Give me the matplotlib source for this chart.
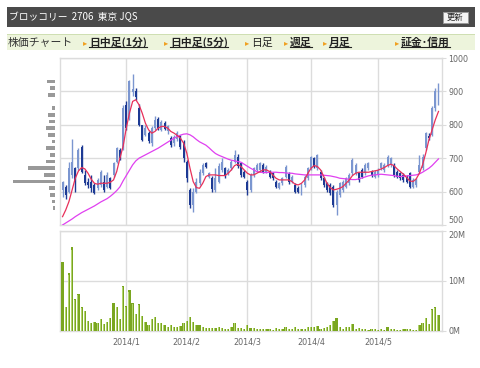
import matplotlib
matplotlib.use('Agg')
import matplotlib.pyplot as plt
from matplotlib.patches import Rectangle
from matplotlib.lines import Line2D
from matplotlib.transforms import IdentityTransform
import numpy as np

W, H, DPI = 480, 368, 100

# ---------------- text ----------------
title = "ブロッコリー  2706  東京 JQS"
button_label = "更新"
nav_label = "株価チャート"
nav_links = ["日中足(1分)", "日中足(5分)", "日足", "週足", "月足", "証金･信用"]
nav_bold = [True, True, False, True, True, True]
nav_x = [89, 170, 251, 290, 329, 401]

month_idx = [20, 39, 58, 78, 99]
month_labels = ["2014/1", "2014/2", "2014/3", "2014/4", "2014/5"]
price_ticks = [500, 600, 700, 800, 900, 1000]
vol_ticks = [0, 10, 20]
vol_tick_labels = ["0M", "10M", "20M"]

# ---------------- daily data (Dec 2013 - May 2014) ----------------
opens = [605, 615, 600, 650, 670, 670, 735, 650, 630, 628, 620, 610, 620, 630, 615, 640, 650, 690, 725, 730,
         860, 820, 898, 900, 850, 800, 770, 775, 745, 790, 818, 785, 805, 780, 760, 745, 758, 765, 750, 690,
         605, 560, 600, 625, 655, 685, 645, 640, 605, 630, 665, 670, 655, 670, 690, 705, 685, 660, 630, 605,
         650, 665, 665, 680, 660, 660, 655, 630, 612, 625, 645, 652, 630, 620, 612, 598, 620, 640, 670, 700,
         670, 660, 640, 625, 620, 615, 560, 590, 605, 615, 625, 655, 655, 655, 665, 655, 670, 660, 645, 650,
         670, 665, 680, 680, 680, 660, 655, 650, 645, 655, 615, 620, 660, 670, 730, 765, 770, 850, 885]
highs = [632, 620, 690, 758, 675, 730, 740, 665, 640, 650, 625, 640, 665, 650, 658, 645, 690, 735, 730, 860,
         870, 935, 952, 910, 862, 800, 800, 780, 795, 825, 822, 815, 810, 800, 765, 768, 780, 770, 755, 695,
         610, 610, 640, 668, 685, 688, 660, 648, 670, 685, 700, 675, 670, 695, 725, 712, 690, 665, 635, 655,
         675, 685, 690, 685, 680, 665, 658, 635, 630, 645, 680, 658, 650, 625, 618, 625, 650, 675, 708, 705,
         712, 665, 645, 630, 625, 620, 605, 630, 635, 645, 655, 700, 685, 660, 670, 685, 690, 665, 665, 670,
         690, 685, 710, 705, 685, 665, 660, 655, 650, 660, 640, 640, 710, 712, 778, 775, 855, 910, 925]
lows = [585, 578, 595, 640, 600, 665, 655, 620, 610, 600, 592, 605, 615, 600, 612, 608, 645, 685, 695, 725,
        785, 815, 885, 875, 795, 750, 765, 745, 738, 785, 785, 780, 783, 772, 735, 738, 750, 728, 690, 630,
        550, 538, 595, 620, 650, 670, 640, 600, 600, 625, 660, 642, 650, 665, 685, 672, 645, 640, 590, 600,
        645, 660, 660, 655, 655, 640, 635, 610, 608, 620, 640, 622, 625, 595, 595, 590, 615, 635, 665, 670,
        665, 635, 615, 600, 590, 555, 529, 585, 600, 612, 620, 650, 650, 630, 640, 650, 665, 645, 640, 645,
        665, 660, 675, 675, 645, 640, 635, 630, 625, 610, 610, 615, 655, 665, 725, 755, 765, 840, 860]
closes = [628, 590, 670, 690, 630, 725, 660, 625, 620, 612, 597, 635, 660, 605, 650, 612, 685, 730, 700, 850,
          790, 930, 908, 882, 800, 755, 790, 750, 790, 815, 790, 808, 788, 795, 740, 762, 775, 735, 700, 640,
          560, 600, 630, 660, 680, 675, 655, 608, 640, 678, 690, 648, 665, 690, 710, 678, 650, 645, 605, 650,
          670, 680, 685, 660, 675, 645, 640, 615, 625, 640, 675, 628, 645, 600, 600, 620, 645, 670, 705, 675,
          710, 640, 620, 605, 595, 560, 600, 625, 630, 640, 650, 695, 680, 635, 645, 680, 685, 650, 660, 665,
          685, 680, 705, 700, 650, 645, 640, 635, 630, 615, 635, 635, 680, 705, 775, 760, 850, 900, 910]
volume_m = [13.9, 4.9, 11.7, 16.9, 6.5, 7.5, 4.8, 4.1, 2.1, 1.6, 1.9, 1.7, 2.5, 1.5, 1.9, 2.7, 5.7, 4.9, 2.5, 9.1,
            5.1, 8.2, 5.7, 3.5, 5.4, 3.1, 1.9, 1.3, 2.5, 2.9, 1.7, 1.7, 1.3, 0.9, 1.2, 0.9, 0.9, 1.1, 1.7, 2.1,
            2.9, 1.9, 1.3, 1.2, 0.9, 0.7, 0.7, 0.7, 0.7, 0.8, 0.7, 0.5, 0.4, 0.9, 1.6, 0.7, 0.7, 0.5, 1.2, 0.7,
            0.7, 0.4, 0.5, 0.4, 0.4, 0.5, 0.3, 0.7, 0.5, 0.5, 0.8, 0.5, 0.4, 0.8, 0.4, 0.4, 0.5, 0.9, 0.9, 0.8,
            1.1, 0.5, 0.7, 0.9, 1.2, 2.1, 2.7, 0.8, 0.5, 0.8, 0.8, 1.5, 0.5, 0.7, 0.4, 0.5, 0.3, 0.4, 0.4, 0.3,
            0.5, 0.3, 0.8, 0.5, 0.5, 0.3, 0.3, 0.4, 0.5, 0.5, 0.3, 0.3, 1.3, 1.7, 2.7, 1.5, 4.4, 4.8, 3.3]
ma_short = [525, 545, 570, 605, 640, 662, 672, 668, 655, 637, 625, 622, 625, 625, 625, 628, 635, 660, 700, 735,
            790, 835, 870, 875, 860, 835, 805, 785, 775, 780, 790, 795, 795, 790, 780, 775, 768, 760, 745, 715,
            670, 630, 612, 610, 625, 645, 650, 650, 650, 648, 648, 648, 655, 665, 678, 682, 675, 665, 655, 650,
            650, 655, 660, 665, 665, 660, 650, 640, 635, 635, 635, 635, 630, 622, 620, 625, 635, 655, 670, 678,
            675, 665, 645, 625, 612, 605, 607, 610, 615, 625, 635, 648, 655, 658, 658, 658, 658, 660, 662, 664,
            668, 672, 678, 682, 678, 668, 660, 652, 642, 632, 630, 638, 655, 680, 715, 755, 785, 815, 840]
ma_long = [500, 506, 512, 518, 525, 531, 537, 542, 547, 552, 557, 563, 569, 574, 579, 586, 594, 603, 614, 632,
           648, 664, 680, 692, 700, 705, 710, 715, 720, 725, 730, 736, 742, 748, 754, 760, 765, 769, 772, 773,
           770, 764, 756, 749, 744, 739, 731, 722, 714, 709, 705, 701, 697, 694, 692, 690, 688, 682, 676, 670,
           665, 660, 658, 657, 657, 658, 658, 658, 657, 657, 656, 655, 655, 653, 652, 651, 650, 650, 650, 650,
           650, 650, 649, 648, 647, 645, 643, 640, 639, 638, 637, 636, 636, 638, 641, 644, 647, 649, 650, 651,
           652, 651, 650, 649, 648, 646, 645, 646, 647, 648, 649, 650, 653, 658, 664, 670, 678, 688, 698]

# price-by-volume profile (left)
pbv_price = [550, 570, 590, 610, 630, 650, 670, 690, 710, 730, 750, 770, 790, 810, 830, 850, 890, 910, 930]
pbv_volume = [2.3, 3.3, 5.0, 6.0, 41.7, 10.7, 26.7, 9.3, 5.0, 9.3, 2.7, 7.3, 9.3, 6.0, 6.7, 3.3, 6.7, 5.0, 8.3]

# ---------------- styling ----------------
UP = '#7b96d0'
DOWN = '#1d3a94'
GRID = '#dcdcdc'
TXT = '#666666'

plt.rcParams['font.family'] = ['DejaVu Sans']
JP = ['Noto Sans CJK JP', 'DejaVu Sans']

fig = plt.figure(figsize=(W / DPI, H / DPI), dpi=DPI, facecolor='white')

def fx(x):
    return x / W

def fy(y):
    return 1 - y / H

# header bar
fig.add_artist(Rectangle((fx(7), fy(27)), fx(468), 20 / H, transform=fig.transFigure,
                         facecolor='#4a4a4a', edgecolor='none'))
fig.text(fx(9), fy(17), title, color='white', fontsize=7, family=JP, va='center', ha='left')
fig.add_artist(Rectangle((fx(443), fy(23)), fx(25), 11 / H, transform=fig.transFigure,
                         facecolor='#f4f4f4', edgecolor='#999999', lw=0.7))
fig.text(fx(455.5), fy(17.5), button_label, color='#222222', fontsize=6, family=JP, va='center', ha='center')

# nav bar
fig.add_artist(Rectangle((fx(7), fy(50)), fx(468), 16 / H, transform=fig.transFigure,
                         facecolor='#edf4dc', edgecolor='none'))
fig.add_artist(Rectangle((fx(7), fy(35)), fx(468), 1.5 / H, transform=fig.transFigure,
                         facecolor='#cfdfb3', edgecolor='none'))
fig.text(fx(8), fy(42.5), nav_label, color='#333333', fontsize=7.8, family=JP, va='center', ha='left')
link_texts = []
for lab, bold, x in zip(nav_links, nav_bold, nav_x):
    fig.text(fx(x - 6), fy(42.5), '▸', color='#f0a020', fontsize=6, family=['DejaVu Sans'],
             va='center', ha='left')
    t = fig.text(fx(x), fy(42.5), lab, color='#222222', fontsize=7.8, family=JP,
                 fontweight='bold' if bold else 'normal', va='center', ha='left')
    if bold:
        link_texts.append(t)

# axes
ax = fig.add_axes([fx(60), fy(225), 382 / W, 167 / H])
axv = fig.add_axes([fx(60), fy(331), 382 / W, 100 / H])
axp = fig.add_axes([fx(10), fy(225), 45 / W, 167 / H])

n = len(closes)
idx = np.arange(n)
o = np.array(opens); c = np.array(closes); hi = np.array(highs); lo = np.array(lows)
up = c >= o
cols = np.where(up, UP, DOWN)

for a in (ax, axv):
    a.set_xlim(-0.8, 119.1)
    a.set_xticks(month_idx)
    a.grid(True, color=GRID, lw=1.0)
    a.set_axisbelow(True)
    for s in a.spines.values():
        s.set_color(GRID)
        s.set_linewidth(1.0)
    a.yaxis.tick_right()
    a.tick_params(axis='y', colors=GRID, labelcolor=TXT, labelsize=5.8, length=3, width=0.8, pad=1.5)
    a.tick_params(axis='x', length=0, labelcolor=TXT, labelsize=5.8, pad=5)

ax.set_ylim(500, 1000)
ax.set_yticks(price_ticks)
ax.set_xticklabels([])

ax.vlines(idx, lo, hi, colors=cols, lw=1.0, zorder=2)
body_h = np.maximum(np.abs(c - o), 2)
ax.bar(idx, body_h, bottom=np.minimum(o, c), width=0.62, color=cols, edgecolor='none', zorder=3)
ax.plot(idx, ma_long, color='#e040f0', lw=0.9, zorder=4)
ax.plot(idx, ma_short, color='#e8305a', lw=0.9, zorder=5)

axv.set_ylim(0, 20)
axv.set_yticks(vol_ticks)
axv.set_yticklabels(vol_tick_labels)
axv.set_xticklabels(month_labels)
axv.bar(idx, volume_m, width=0.72, color='#7aa620', edgecolor='none', zorder=3)
axv.bar(idx - 0.17, np.array(volume_m) * 0.96, width=0.3, color='#b3d46e', edgecolor='none', zorder=4)

for a in (ax, axv):
    for lbl in a.get_yticklabels():
        lbl.set_ha('left')
# keep the "500" and "20M" labels from colliding
ax.get_yticklabels()[0].set_va('bottom')
axv.get_yticklabels()[-1].set_va('top')

axp.set_ylim(500, 1000)
axp.set_xlim(45, 0)
axp.barh(pbv_price, pbv_volume, height=11, color='#999999', edgecolor='none')
axp.axis('off')

# underline bold links
fig.canvas.draw()
r = fig.canvas.get_renderer()
for t in link_texts:
    bb = t.get_window_extent(r)
    yb = bb.y0 + 1.0
    fig.add_artist(Line2D([bb.x0, bb.x1], [yb, yb], transform=IdentityTransform(),
                          color='#222222', lw=0.8))

fig.savefig('out.png', dpi=DPI, facecolor='white')
